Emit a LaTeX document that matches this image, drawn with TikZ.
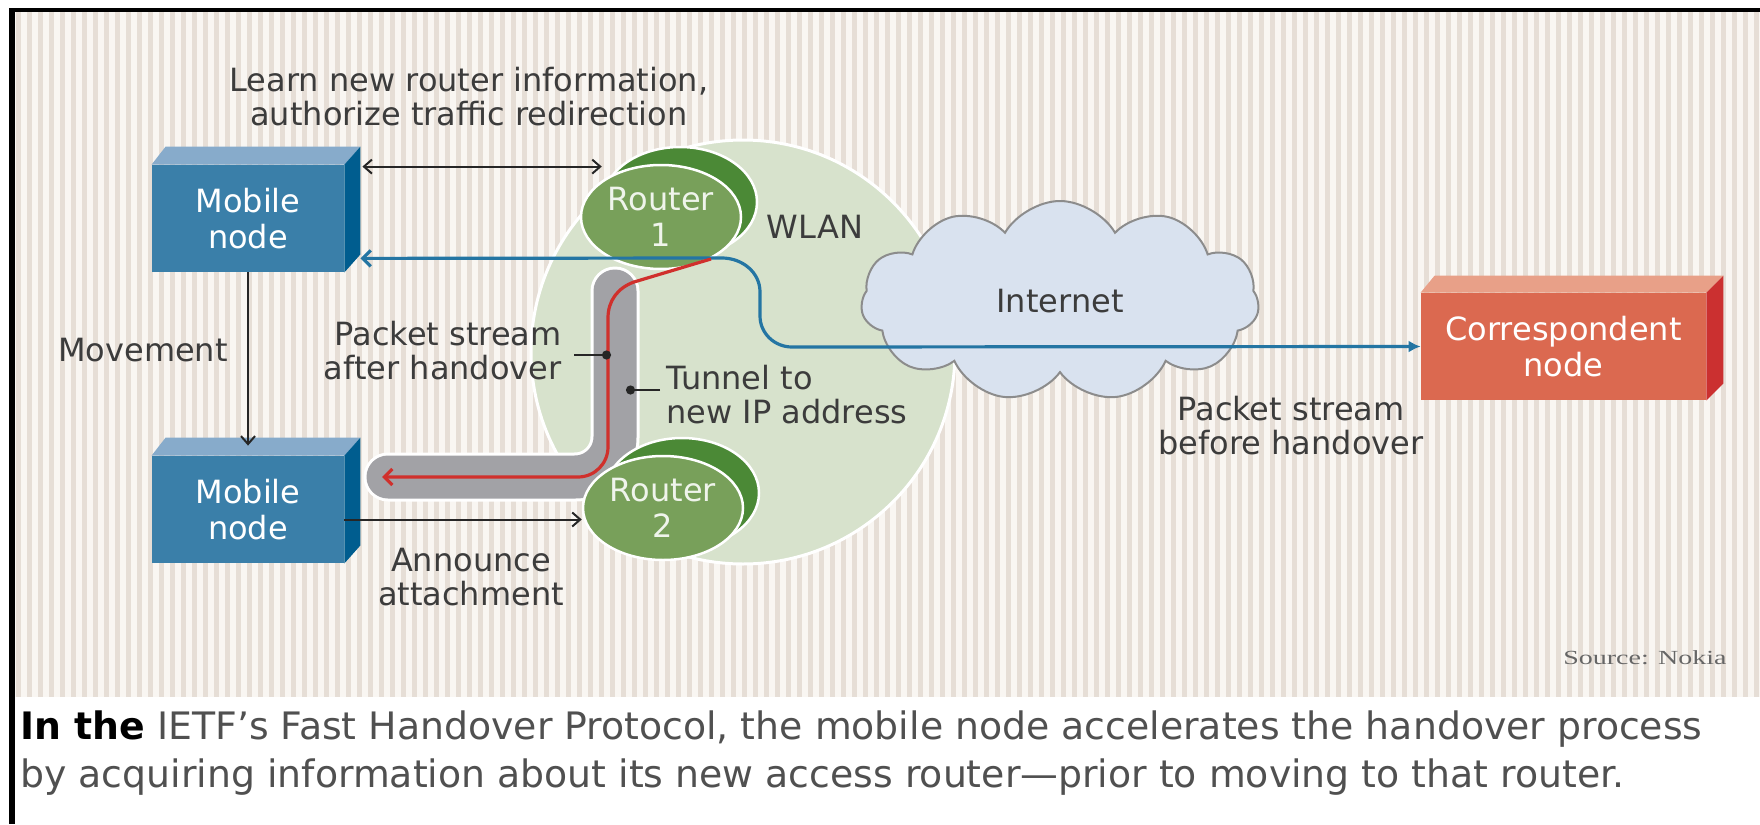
\documentclass[tikz,border=0pt]{standalone}
\usepackage{fontspec}
\setmainfont{DejaVu Sans}
\setsansfont{DejaVu Sans}
\newfontfamily\sourcefont{Liberation Serif}
\usetikzlibrary{arrows.meta,shapes.geometric,shapes.symbols}

\definecolor{stripedark}{HTML}{E6DED6}
\definecolor{stripelight}{HTML}{F9F6F2}
\definecolor{mobfront}{HTML}{3A7FA9}
\definecolor{mobtop}{HTML}{87ABCB}
\definecolor{mobside}{HTML}{005D8F}
\definecolor{corrfront}{HTML}{DB6950}
\definecolor{corrtop}{HTML}{E8A088}
\definecolor{corrside}{HTML}{CB3030}
\definecolor{routerfront}{HTML}{78A05A}
\definecolor{routerback}{HTML}{4B8936}
\definecolor{wlanfill}{HTML}{D7E2CC}
\definecolor{cloudfill}{HTML}{D9E2EF}
\definecolor{tunnelgray}{HTML}{A2A2A6}
\definecolor{streamred}{HTML}{D0302C}
\definecolor{streamblue}{HTML}{2475A3}
\definecolor{labelgray}{HTML}{3C3C3C}
\definecolor{captiongray}{HTML}{505050}

\tikzset{
  txt/.style={text=labelgray, font=\fontsize{16}{17}\selectfont, align=center, inner sep=0pt},
  boxnode/.style={rectangle, inner sep=0pt, text=white, font=\fontsize{16}{18}\selectfont, align=center},
  mobile/.style={boxnode, fill=mobfront, minimum width=96pt, minimum height=53.5pt},
  corresp/.style={boxnode, fill=corrfront, minimum width=142.5pt, minimum height=53.5pt},
  routerbk/.style={ellipse, fill=routerback, draw=white, line width=1.25pt, minimum width=77pt, minimum height=55pt, inner sep=0pt},
  routerfr/.style={ellipse, fill=routerfront, draw=white, line width=1.25pt, minimum width=80pt, minimum height=52pt, inner sep=0pt,
    text=white!88!routerfront, font=\fontsize{16}{18}\selectfont, align=center},
  linkarr/.style={draw=black!85, line width=1pt, >={Straight Barb[length=4pt,width=7pt]}},
  stream/.style={line width=1.6pt},
  pointer/.style={draw=black!85, line width=1.2pt, -{Circle[length=4.5pt]}}
}

\begin{document}
\begin{tikzpicture}[x=0.5pt, y=-0.5pt]
    \useasboundingbox (0,0) rectangle (1760,824);
    \fill[white] (0,0) rectangle (1760,824);

    \fill[stripelight] (15,12) rectangle (1760,697);
    \foreach \x in {16,27,...,1755}
        \fill[stripedark] (\x,12) rectangle ++(5,685);

    \fill[black] (9,8) rectangle (15,824);
    \fill[black] (9,8) rectangle (1760,12);

    \filldraw[fill=wlanfill, draw=white, line width=1.5pt] (743,352) circle (212);

    \coordinate (tuntop) at (615,291);
    \coordinate (tuncorner) at (615,477);
    \coordinate (tunend) at (388,477);
    \draw[white, line width=24.5pt, line cap=round, rounded corners=20pt] (tuntop) -- (tuncorner) -- (tunend);
    \draw[tunnelgray, line width=21.5pt, line cap=round, rounded corners=20pt] (tuntop) -- (tuncorner) -- (tunend);

    \node[routerbk] (r1b) at (680,202) {};
    \node[routerfr] (r1) at (661,217) {Router\\1};
    \node[routerbk] (r2b) at (682,493) {};
    \node[routerfr] (r2) at (663,508) {Router\\2};

    \node[cloud, cloud puffs=11, cloud puff arc=120, aspect=2, fill=cloudfill, draw=black!45, line width=1pt,
        minimum width=199pt, minimum height=100pt, inner sep=0pt, text=labelgray, font=\fontsize{16}{17}\selectfont] (inet) at (1060,301) {\raisebox{-2.5pt}{Internet}};

    \node[mobile] (mob1) at (248,218.5) {Mobile\\node};
    \fill[mobtop] (mob1.north west) -- ++(14,-18) -- ([shift={(16,-18)}]mob1.north east) -- (mob1.north east) -- cycle;
    \fill[mobside] (mob1.north east) -- ++(16,-18) -- ([shift={(16,-18)}]mob1.south east) -- (mob1.south east) -- cycle;

    \node[mobile] (mob2) at (248,509.5) {Mobile\\node};
    \fill[mobtop] (mob2.north west) -- ++(14,-18) -- ([shift={(16,-18)}]mob2.north east) -- (mob2.north east) -- cycle;
    \fill[mobside] (mob2.north east) -- ++(16,-18) -- ([shift={(16,-18)}]mob2.south east) -- (mob2.south east) -- cycle;

    \node[corresp] (corr) at (1563.5,346.5) {Correspondent\\node};
    \fill[corrtop] (corr.north west) -- ++(14,-17) -- ([shift={(17,-17)}]corr.north east) -- (corr.north east) -- cycle;
    \fill[corrside] (corr.north east) -- ++(17,-17) -- ([shift={(17,-17)}]corr.south east) -- (corr.south east) -- cycle;

    \draw[stream, draw=streamblue, {Straight Barb[length=4pt,width=8pt]}-{Latex[length=6pt,width=6pt]}]
        ([shift={(16,-14)}]mob1.south east) -- (722,258) to[out=0,in=90] (760,292) -- (760,316)
        to[out=-90,in=180] (792,347) -- (corr.west);

    \draw[stream, draw=streamred, -{Straight Barb[length=4pt,width=8pt]}]
        (r1.-40) -- (634,282) to[out=200,in=90] (608,318) -- (608,447)
        to[out=-90,in=0] (578,477) -- ([xshift=-3pt]tunend);

    \coordinate (dstart) at ([xshift=9pt,yshift=-1pt]mob1.north east);
    \draw[linkarr,<->] (dstart) -- (dstart -| r1b.west);
    \draw[linkarr,->] (mob1.south) -- ([yshift=5pt]mob2.north);
    \coordinate (astart) at ([yshift=-5pt]mob2.east);
    \draw[linkarr,->] (astart) -- (astart -| r2.west);

    \node[txt] (learn) at (469,97) {Learn new router information,\\authorize traffic redirection};
    \node[txt] (wlan) at (815,227) {WLAN};
    \node[txt] (move) at (143,350) {Movement};
    \node[txt, anchor=east, align=right] (after) at (562,351) {Packet stream\\after handover};
    \node[txt, anchor=west, align=left] (tunlbl) at (666,395) {Tunnel to\\new IP address};
    \node[txt] (announce) at (471,577) {Announce\\attachment};
    \node[txt] (before) at (1291,426) {Packet stream\\before handover};

    \coordinate (redpt) at (611,355);
    \coordinate (tunpt) at (626,390);
    \draw[pointer] ([xshift=6pt,yshift=-2pt]after.east) -- (redpt);
    \draw[pointer] ([xshift=-3pt,yshift=2.5pt]tunlbl.west) -- (tunpt);

    \node[anchor=east, inner sep=0pt, text=black!60, font=\sourcefont\fontsize{10}{11}\selectfont] (source) at (1727,658) {\scalebox{1.4}[1]{Source: Nokia}};

    \node[anchor=north west, inner sep=0pt, align=left, text=captiongray, font=\fontsize{18.9}{24}\selectfont] (caption) at (20,710)
        {{\bfseries\color{black}In the} IETF's Fast Handover Protocol, the mobile node accelerates the handover process\\
         by acquiring information about its new access router---prior to moving to that router.};
\end{tikzpicture}
\end{document}
